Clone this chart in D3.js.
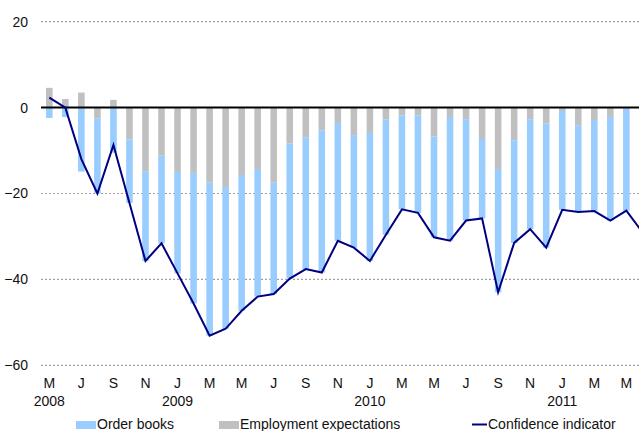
<!DOCTYPE html>
<html>
<head>
<meta charset="utf-8">
<script src="https://cdn.jsdelivr.net/npm/d3@7"></script>
<style>
  body { margin: 0; background: #fff; }
  svg { display: block; font-family: "Liberation Sans", Arial, sans-serif; }
</style>
</head>
<body>
<div id="chart"></div>
<script>
// Months, May 2008 .. Jun 2011
const MONTHS = ["2008-05","2008-06","2008-07","2008-08","2008-09","2008-10","2008-11","2008-12",
  "2009-01","2009-02","2009-03","2009-04","2009-05","2009-06","2009-07","2009-08","2009-09","2009-10","2009-11","2009-12",
  "2010-01","2010-02","2010-03","2010-04","2010-05","2010-06","2010-07","2010-08","2010-09","2010-10","2010-11","2010-12",
  "2011-01","2011-02","2011-03","2011-04","2011-05","2011-06"];

// contributions (balance points)
const orderBooks = [-2.4,-2.2,-14.9,-17.5,-10.5,-14.8,-20.9,-20.4,
  -23.6,-30.4,-35.6,-33.0,-31.6,-29.7,-25.9,-31.4,-30.7,-33.1,-27.4,-26.2,
  -29.8,-26.8,-21.9,-22.7,-23.5,-28.8,-23.6,-18.5,-28.7,-23.9,-25.6,-28.9,
  -23.0,-20.2,-21.2,-24.1,-23.7,-27.0];
const employment = [4.6,2.0,3.5,-2.5,1.8,-7.4,-14.8,-11.2,
  -15.0,-15.2,-17.5,-18.5,-15.7,-14.3,-17.5,-8.4,-6.9,-5.3,-3.6,-6.4,
  -5.9,-2.8,-1.8,-1.8,-6.7,-2.2,-2.7,-7.3,-14.3,-7.6,-2.7,-3.7,
  -0.8,-4.1,-2.9,-2.2,-0.3,-2.0];
const confidence = [2.3,0.0,-12.0,-20.0,-8.7,-22.2,-35.7,-31.6,
  -38.6,-45.6,-53.1,-51.5,-47.3,-44.0,-43.4,-39.8,-37.6,-38.4,-31.0,-32.6,
  -35.7,-29.6,-23.7,-24.5,-30.2,-31.0,-26.3,-25.8,-43.0,-31.5,-28.3,-32.6,
  -23.8,-24.3,-24.1,-26.3,-24.0,-29.0];

const yTicks = [-60, -40, -20, 0, 20];
const monthLetters = ["J","F","M","A","M","J","J","A","S","O","N","D"];
const yearLabels = [["2008-05","2008"],["2009-01","2009"],["2010-01","2010"],["2011-01","2011"]];
const seriesNames = ["Order books", "Employment expectations", "Confidence indicator"];

const WIDTH = 639, HEIGHT = 431;
const COLORS = {order: "#99ccff", emp: "#c0c0c0", line: "#000080"};

const svg = d3.select("#chart").append("svg")
  .attr("width", WIDTH).attr("height", HEIGHT);

const x = d3.scaleBand().domain(MONTHS).range([41.3, 650.4]).paddingInner(0.59).paddingOuter(0.295);
const y = d3.scaleLinear().domain([-60, 20]).range([365.3, 21.7]);
const cx = d => x(d) + x.bandwidth() / 2;

// grid
svg.append("g").selectAll("line")
  .data(yTicks.filter(v => v !== 0))
  .enter().append("line")
  .attr("x1", 41).attr("x2", WIDTH)
  .attr("y1", d => y(d)).attr("y2", d => y(d))
  .attr("stroke", "#a0a0a0").attr("stroke-width", 1.2)
  .attr("stroke-dasharray", "2,2");

// y labels
const yAxis = svg.append("g")
  .attr("transform", "translate(28,0)")
  .call(d3.axisLeft(y).tickValues(yTicks).tickSize(0).tickPadding(0).tickFormat(d3.format("d")));
yAxis.select(".domain").remove();
yAxis.selectAll("text").attr("font-size", 14).attr("fill", "#111")
  .attr("font-family", "Liberation Sans, Arial, sans-serif");

// stacked bars (diverging)
const rows = MONTHS.map((m, i) => ({m, emp: employment[i], order: orderBooks[i]}));
rows.forEach(r => {
  let pos = 0, neg = 0;
  r.segs = [["emp", r.emp], ["order", r.order]].map(([k, v]) => {
    let y0, y1;
    if (v >= 0) { y0 = pos; y1 = pos + v; pos = y1; }
    else { y0 = neg; y1 = neg + v; neg = y1; }
    return {k, y0, y1, m: r.m};
  });
});
svg.append("g").selectAll("g").data(rows).enter().append("g")
  .selectAll("rect").data(d => d.segs).enter().append("rect")
  .attr("x", d => x(d.m))
  .attr("width", x.bandwidth())
  .attr("y", d => y(Math.max(d.y0, d.y1)))
  .attr("height", d => Math.abs(y(d.y0) - y(d.y1)))
  .attr("fill", d => COLORS[d.k]);

// zero line
svg.append("line")
  .attr("x1", 41).attr("x2", WIDTH)
  .attr("y1", y(0)).attr("y2", y(0))
  .attr("stroke", "#000").attr("stroke-width", 2);

// confidence line
svg.append("path")
  .datum(confidence)
  .attr("fill", "none")
  .attr("stroke", COLORS.line)
  .attr("stroke-width", 2)
  .attr("stroke-linejoin", "miter")
  .attr("d", d3.line().x((d, i) => cx(MONTHS[i])).y(d => y(d)));

// x axis month letters
const xAxis = svg.append("g")
  .attr("transform", "translate(0,378)")
  .call(d3.axisBottom(x)
    .tickValues(MONTHS.filter((d, i) => i % 2 === 0 && i < 37))
    .tickSize(0).tickPadding(0)
    .tickFormat(d => monthLetters[+d.slice(5) - 1]));
xAxis.select(".domain").remove();
xAxis.selectAll("text").attr("font-size", 14).attr("fill", "#111")
  .attr("font-family", "Liberation Sans, Arial, sans-serif");

svg.append("g").selectAll("text").data(yearLabels).enter().append("text")
  .attr("x", d => cx(d[0])).attr("y", 406)
  .attr("text-anchor", "middle").attr("font-size", 14).attr("fill", "#111")
  .text(d => d[1]);

// legend (cut at the bottom edge, as in the source)
const legend = svg.append("g");
legend.append("rect").attr("x", 76).attr("y", 421).attr("width", 20).attr("height", 8).attr("fill", COLORS.order);
legend.append("text").attr("x", 97).attr("y", 429).attr("font-size", 14).attr("fill", "#111").text(seriesNames[0]);
legend.append("rect").attr("x", 219).attr("y", 421).attr("width", 20).attr("height", 8).attr("fill", COLORS.emp);
legend.append("text").attr("x", 240).attr("y", 429).attr("font-size", 14).attr("fill", "#111").text(seriesNames[1]);
legend.append("line").attr("x1", 472).attr("x2", 487).attr("y1", 424.5).attr("y2", 424.5)
  .attr("stroke", COLORS.line).attr("stroke-width", 2);
legend.append("text").attr("x", 488).attr("y", 429).attr("font-size", 14).attr("fill", "#111").text(seriesNames[2]);
</script>
</body>
</html>
